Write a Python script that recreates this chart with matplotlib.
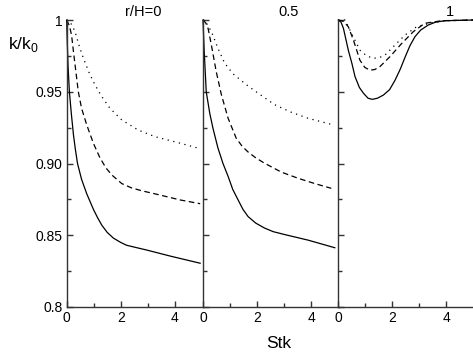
import matplotlib
matplotlib.use("Agg")
import matplotlib.pyplot as plt
from matplotlib.ticker import FixedLocator

plt.rcParams['font.family'] = ['Liberation Sans', 'DejaVu Sans']
plt.rcParams['mathtext.fontset'] = 'custom'
plt.rcParams['mathtext.rm'] = 'Liberation Sans'

# ---- data ----
panel_titles = ["r/H=0", "0.5", "1"]

p1_solid_x = [0, 0.02, 0.05, 0.1, 0.17, 0.25, 0.32, 0.4, 0.55, 0.74, 0.99, 1.15, 1.30, 1.5, 1.73, 2.0, 2.22, 2.96, 3.83, 4.94]
p1_solid_y = [1.0, 0.985, 0.968, 0.95, 0.935, 0.92, 0.91, 0.90, 0.889, 0.879, 0.868, 0.862, 0.857, 0.852, 0.848, 0.845, 0.843, 0.8397, 0.8355, 0.8305]
p1_dash_x = [0, 0.1, 0.18, 0.25, 0.34, 0.43, 0.55, 0.74, 0.99, 1.23, 1.45, 1.67, 2.04, 2.4, 2.78, 3.46, 4.2, 4.94]
p1_dash_y = [1.0, 0.996, 0.9895, 0.978, 0.964, 0.950, 0.9385, 0.927, 0.914, 0.904, 0.897, 0.892, 0.886, 0.883, 0.881, 0.878, 0.8746, 0.872]
p1_dot_x = [0, 0.12, 0.31, 0.47, 0.62, 0.84, 1.05, 1.30, 1.60, 2.04, 2.65, 3.27, 4.13, 4.81]
p1_dot_y = [1.0, 0.999, 0.9919, 0.9814, 0.9733, 0.9628, 0.9547, 0.9466, 0.9385, 0.9303, 0.9233, 0.9187, 0.9145, 0.911]

p2_solid_x = [0, 0.04, 0.12, 0.25, 0.37, 0.55, 0.74, 0.93, 1.1, 1.30, 1.48, 1.67, 1.95, 2.28, 2.6, 3.02, 3.89, 4.88]
p2_solid_y = [1.0, 0.98, 0.95, 0.935, 0.9245, 0.911, 0.90, 0.891, 0.882, 0.8746, 0.868, 0.863, 0.8585, 0.855, 0.8525, 0.8505, 0.8466, 0.8413]
p2_dash_x = [0, 0.1, 0.19, 0.31, 0.49, 0.68, 0.93, 1.23, 1.45, 1.67, 1.95, 2.25, 2.90, 3.52, 4.14, 4.75]
p2_dash_y = [1.0, 0.998, 0.994, 0.9826, 0.964, 0.948, 0.9315, 0.9176, 0.912, 0.908, 0.904, 0.9005, 0.894, 0.8897, 0.886, 0.8827]
p2_dot_x = [0, 0.06, 0.31, 0.56, 0.80, 1.11, 1.60, 2.04, 2.65, 3.27, 3.89, 4.75]
p2_dot_y = [1.0, 1.0, 0.992, 0.980, 0.970, 0.9625, 0.955, 0.949, 0.941, 0.9357, 0.9315, 0.9273]

p3_solid_x = [0, 0.1, 0.19, 0.37, 0.5, 0.62, 0.78, 0.93, 1.1, 1.26, 1.45, 1.67, 1.9, 2.10, 2.3, 2.47, 2.65, 2.84, 3.05, 3.33, 3.6, 3.95, 5.0]
p3_solid_y = [1.0, 0.9985, 0.9942, 0.979, 0.970, 0.9605, 0.953, 0.949, 0.9455, 0.9447, 0.9455, 0.9477, 0.9515, 0.958, 0.966, 0.974, 0.982, 0.9884, 0.993, 0.9965, 0.9985, 0.9995, 1.0]
p3_dash_x = [0, 0.2, 0.37, 0.56, 0.80, 0.98, 1.17, 1.35, 1.54, 1.91, 2.35, 2.78, 3.2, 3.83, 5.0]
p3_dash_y = [1.0, 0.999, 0.9953, 0.986, 0.972, 0.967, 0.965, 0.9655, 0.9675, 0.9744, 0.9837, 0.9919, 0.9977, 0.9995, 1.0]
p3_dot_x = [0, 0.25, 0.49, 0.80, 1.05, 1.30, 1.52, 1.73, 2.10, 2.47, 2.90, 3.46, 4.0, 5.0]
p3_dot_y = [1.0, 1.0, 0.9907, 0.979, 0.975, 0.9733, 0.9738, 0.9756, 0.9826, 0.9895, 0.9953, 0.9981, 0.9995, 1.0]

panels = [
    (p1_solid_x, p1_solid_y, p1_dash_x, p1_dash_y, p1_dot_x, p1_dot_y),
    (p2_solid_x, p2_solid_y, p2_dash_x, p2_dash_y, p2_dot_x, p2_dot_y),
    (p3_solid_x, p3_solid_y, p3_dash_x, p3_dash_y, p3_dot_x, p3_dot_y),
]
title_x = [2.85, 3.15, 4.15]

y_ticks = [0.8, 0.85, 0.90, 0.95, 1.0]
y_tick_labels = ["0.8", "0.85", "0.90", "0.95", "1"]
x_ticks = [0, 2, 4]

# ---- figure ----
W, H = 473, 358
fig = plt.figure(figsize=(W / 100, H / 100), dpi=100)

axw = 136.4 / W
axh = (307 - 20) / H
bottom = 1 - 307 / H
lefts = [66.7 / W, 203.0 / W, 338.3 / W]

spine_col = '#333333'
for i, (sx, sy, dx, dy, ox, oy) in enumerate(panels):
    ax = fig.add_axes([lefts[i], bottom, axw, axh])
    ax.set_xlim(0, 5.05)
    ax.set_ylim(0.8, 1.0)
    lw = 0.9
    ax.plot(sx, sy, color='black', lw=lw, clip_on=False)
    ax.plot(dx, dy, color='black', lw=lw, ls=(0, (4.5, 2.8)), clip_on=False)
    ax.plot(ox, oy, color='black', lw=lw, ls=(0, (1, 3.6)), clip_on=False)
    for s in ['top', 'right']:
        ax.spines[s].set_visible(False)
    for s in ['left', 'bottom']:
        ax.spines[s].set_color(spine_col)
        ax.spines[s].set_linewidth(1.0)
    ax.xaxis.set_major_locator(FixedLocator(x_ticks))
    ax.xaxis.set_minor_locator(FixedLocator([1, 3]))
    ax.yaxis.set_major_locator(FixedLocator(y_ticks))
    ax.yaxis.set_minor_locator(FixedLocator([0.825, 0.875, 0.925, 0.975]))
    ax.tick_params(which='both', direction='in', color=spine_col, width=1.0)
    ax.tick_params(which='major', length=4.5, labelsize=10, pad=3)
    ax.tick_params(which='minor', length=3)
    if i == 0:
        ax.set_yticklabels(y_tick_labels)
    else:
        ax.set_yticklabels([])
    ax.set_xticklabels([str(t) for t in x_ticks])
    ax.text(title_x[i], 1.0058, panel_titles[i], ha='center', va='center',
            fontsize=10.5, clip_on=False)
    ax.patch.set_alpha(0)

fig.text(23 / W, 1 - 45 / H, r'k/k$_\mathregular{0}$', ha='center', va='center', fontsize=12.5)
fig.text(279 / W, 1 - 344 / H, 'Stk', ha='center', va='center', fontsize=12.5)

fig.savefig('out.png', dpi=100)
